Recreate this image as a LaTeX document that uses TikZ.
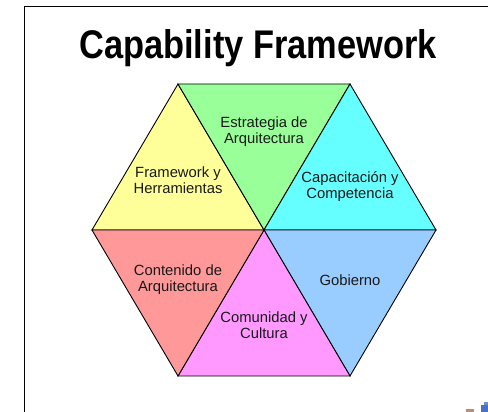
\documentclass[tikz,border=0pt]{standalone}
\usepackage{fontspec}
\setmainfont{Liberation Sans}
\definecolor{cyel}{HTML}{FFFF99}
\definecolor{cgrn}{HTML}{99FF99}
\definecolor{ccyn}{HTML}{66FFFF}
\definecolor{cblu}{HTML}{99CCFF}
\definecolor{cred}{HTML}{FF9999}
\definecolor{cmag}{HTML}{FF99FF}
\definecolor{logob}{HTML}{4A72C4}
\definecolor{logor}{HTML}{C08A70}
\begin{document}
\begin{tikzpicture}[x=1pt,y=-1pt,
  tri/.style={draw=black,line width=0.9pt,line join=miter},
  lbl/.style={align=center,font=\fontsize{14.8}{16}\selectfont,text=black!90,inner sep=0pt}]
\useasboundingbox (0,0) rectangle (488,412);
\fill[white] (-2,-2) rectangle (490,414);
% frame
\draw[line width=1.6pt] (24.5,420) -- (24.5,6.5) -- (495,6.5);
% title
\node[font=\fontsize{40}{44}\selectfont\bfseries,anchor=base,xscale=0.86] (title) at (258,59) {Capability Framework};
% hexagon coordinates
\coordinate (C) at (264,230);
\coordinate (TL) at (178,84);
\coordinate (TR) at (350,84);
\coordinate (R) at (436,230);
\coordinate (BR) at (350,376);
\coordinate (BL) at (178,376);
\coordinate (L) at (92,230);
% triangles
\filldraw[tri,fill=cyel] (TL) -- (C) -- (L) -- cycle;
\filldraw[tri,fill=cgrn] (TL) -- (TR) -- (C) -- cycle;
\filldraw[tri,fill=ccyn] (TR) -- (R) -- (C) -- cycle;
\filldraw[tri,fill=cblu] (R) -- (BR) -- (C) -- cycle;
\filldraw[tri,fill=cmag] (BR) -- (BL) -- (C) -- cycle;
\filldraw[tri,fill=cred] (BL) -- (L) -- (C) -- cycle;
% labels
\node[lbl] (fw) at (178,180) {Framework y\\Herramientas};
\node[lbl] (ea) at (264,132) {Estrategia de\\Arquitectura};
\node[lbl] (cc) at (350,187) {Capacitación y\\Competencia};
\node[lbl] (gob) at (350,280) {Gobierno};
\node[lbl] (ca) at (178,280) {Contenido de\\Arquitectura};
\node[lbl] (cu) at (264,325) {Comunidad y\\Cultura};
% logo fragment
\fill[logob] (481,405) rectangle (488,412);
\fill[logob!80] (484,402) rectangle (488,405);
\fill[logor] (466,409) rectangle (474,412);
\end{tikzpicture}
\end{document}
